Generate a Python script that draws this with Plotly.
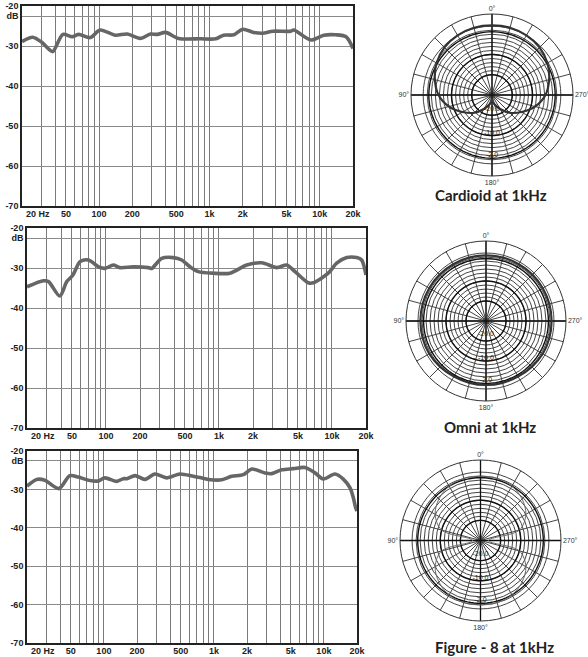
import math
import plotly.graph_objects as go

W, H = 588, 657

# ---------------- frequency-response data ----------------
card_freq = [20, 25, 30, 35, 38, 47, 57, 65, 83, 102, 140, 180, 236, 292, 337, 400, 524,
             830, 1140, 1340, 1660, 2000, 2520, 3040, 3750, 5460, 5820, 8300, 10900, 14000, 17300, 20000]
card_db = [-28.9, -27.8, -29.0, -30.8, -31.4, -27.1, -27.7, -27.1, -27.9, -26.0, -27.3, -27.0, -28.1,
           -27.0, -27.1, -26.6, -28.1, -28.2, -28.2, -27.3, -27.2, -25.8, -26.6, -26.8, -26.3, -26.3,
           -26.0, -28.5, -27.3, -27.2, -27.7, -30.6]

omni_freq = [20, 28, 31, 39, 45, 51, 59, 70, 86, 98, 116, 133, 175, 237, 254, 311, 394, 468,
             554, 656, 891, 1250, 1760, 2390, 3250, 3980, 4710, 6170, 6840, 9270, 11000, 13500,
             16550, 18300, 20000]
omni_db = [-34.7, -33.2, -33.4, -37.0, -33.4, -31.75, -28.4, -28.0, -29.7, -30.1, -29.25, -29.9,
           -29.7, -29.9, -30.1, -27.6, -27.4, -28.0, -29.7, -30.9, -31.3, -31.3, -29.25, -28.7,
           -29.9, -29.25, -30.9, -33.7, -33.7, -31.3, -28.8, -27.4, -27.4, -28.0, -31.75]

fig8_freq = [20, 24.5, 29, 39, 49, 58.5, 75, 89, 102, 131, 150, 162, 192, 236, 291, 372, 492,
             650, 748, 889, 1180, 1450, 1850, 2210, 2910, 3350, 4140, 5270, 6730, 8300, 9880,
             12600, 15000, 17300, 18500, 19500, 20000]
fig8_db = [-29.15, -27.4, -27.6, -29.8, -26.4, -26.8, -27.7, -27.8, -27.0, -27.9, -27.2, -27.2,
           -26.4, -27.4, -26.0, -27.0, -26.0, -26.6, -26.9, -27.4, -27.5, -26.6, -26.15, -24.7,
           -25.7, -25.9, -24.9, -24.6, -24.3, -25.7, -27.3, -26.0, -27.3, -29.6, -32.1, -34.9, -35.6]

# axis ticks
grid_freqs = [20, 30, 40, 50, 60, 70, 80, 90, 100, 200, 300, 400, 500, 600, 700, 800, 900,
              1000, 2000, 3000, 4000, 5000, 6000, 7000, 8000, 9000, 10000, 20000]
freq_labels = {50: "50", 100: "100", 200: "200", 500: "500", 1000: "1k", 2000: "2k",
               5000: "5k", 10000: "10k", 20000: "20k"}
first_freq_label = "20 Hz"
db_ticks = [-20, -22.5, -30, -40, -50, -60, -70]
db_labels = ["-20", "dB", "-30", "-40", "-50", "-60", "-70"]

# ---------------- polar data ----------------
pol_theta = [0, 15, 30, 45, 60, 75, 90, 105, 120, 135, 150, 165, 180,
             195, 210, 225, 240, 255, 270, 285, 300, 315, 330, 345, 360]
card_r = [0.86, 0.86, 0.85, 0.83, 0.79, 0.73, 0.66, 0.55, 0.42, 0.31, 0.2, 0.12, 0.08,
          0.12, 0.2, 0.31, 0.42, 0.55, 0.66, 0.73, 0.79, 0.83, 0.85, 0.86, 0.86]
omni_r = [0.82, 0.82, 0.82, 0.82, 0.82, 0.82, 0.82, 0.82, 0.82, 0.81, 0.8, 0.8, 0.8,
          0.8, 0.8, 0.81, 0.82, 0.82, 0.82, 0.82, 0.82, 0.82, 0.82, 0.82, 0.82]
fig8_r = [0.8, 0.8, 0.78, 0.73, 0.65, 0.5, 0.1, 0.5, 0.65, 0.73, 0.78, 0.8, 0.8,
          0.8, 0.78, 0.73, 0.65, 0.5, 0.1, 0.5, 0.65, 0.73, 0.78, 0.8, 0.8]

ring_r = [0.25, 0.3, 0.35, 0.4, 0.45, 0.5, 0.55, 0.6, 0.65, 0.7, 0.75, 0.8, 0.85]
thick_ring_r = [0.25, 0.5, 0.78]
ring_label_r = [0.17, 0.47, 0.74]
ring_labels = ["-20.0", "-10.0", "-2.0"]
spoke_theta = list(range(0, 360, 15))
circle_theta = list(range(0, 361, 3))

titles = ["Cardioid at 1kHz", "Omni at 1kHz", "Figure - 8 at 1kHz"]

# ---------------- layout geometry (pixels) ----------------
charts = [  # left, right, top, bottom
    (22, 353, 6, 206),
    (27, 366, 228, 428),
    (27, 357, 451, 643),
]
polars = [  # left, right, top, bottom
    (411, 573, 14, 176),
    (406, 566, 241, 401),
    (400, 561, 460, 621),
]
title_pos = [(491, 195), (490, 427), (494, 647)]

fig = go.Figure()
series = [(card_freq, card_db), (omni_freq, omni_db), (fig8_freq, fig8_db)]
patterns = [card_r, omni_r, fig8_r]
tick_font = dict(family="Liberation Sans", size=9, color="#222")

for i, (fx, fy) in enumerate(series):
    xa = "x" if i == 0 else f"x{i+1}"
    ya = "y" if i == 0 else f"y{i+1}"
    fig.add_trace(go.Scatter(x=fx, y=fy, mode="lines", xaxis=xa, yaxis=ya,
                             line=dict(color="#666666", width=3.6, shape="spline", smoothing=0.8),
                             hoverinfo="skip", showlegend=False))
    l, r, t, b = charts[i]
    fig.update_layout(**{
        ("xaxis" if i == 0 else f"xaxis{i+1}"): dict(
            type="log", range=[math.log10(grid_freqs[0]), math.log10(grid_freqs[-1])],
            anchor=ya, domain=[l / W, r / W],
            automargin=False, ticklabelstandoff=-2,
            tickvals=grid_freqs,
            ticktext=["<b>" + freq_labels[v] + "</b>" if v in freq_labels else "" for v in grid_freqs],
            tickfont=tick_font,
            showgrid=True, gridcolor="#7a7a7a", gridwidth=1,
            showline=True, linecolor="#222", linewidth=1.6, mirror=True,
            ticks="", ticklen=0, zeroline=False),
        ("yaxis" if i == 0 else f"yaxis{i+1}"): dict(
            range=[-70, -20], anchor=xa, domain=[1 - b / H, 1 - t / H],
            automargin=False,
            tickvals=db_ticks, ticktext=["<b>" + s + "</b>" for s in db_labels],
            tickfont=tick_font,
            showgrid=True, gridcolor="#8a8a8a", gridwidth=1,
            showline=True, linecolor="#222", linewidth=1.6, mirror=True,
            ticks="", ticklen=0, zeroline=False),
    })
    # "20 Hz" label sits to the right of the 20 Hz axis line
    fig.add_annotation(x=math.log10(grid_freqs[0]), xref=xa, y=1 - b / H, yref="paper",
                       text="<b>" + first_freq_label + "</b>", showarrow=False,
                       xanchor="left", yanchor="top", xshift=2, yshift=-1, font=tick_font)

for i, pr in enumerate(patterns):
    sp = "polar" if i == 0 else f"polar{i+1}"
    for rr in thick_ring_r:
        fig.add_trace(go.Scatterpolar(r=[rr] * len(circle_theta), theta=circle_theta, mode="lines",
                                      line=dict(color="#111", width=1.4), subplot=sp,
                                      hoverinfo="skip", showlegend=False))
    fig.add_trace(go.Scatterpolar(r=[1, 0, 1], theta=[0, 0, 180], mode="lines",
                                  line=dict(color="#111", width=1.3), subplot=sp,
                                  hoverinfo="skip", showlegend=False))
    fig.add_trace(go.Scatterpolar(r=[1, 0, 1], theta=[90, 0, 270], mode="lines",
                                  line=dict(color="#111", width=1.3), subplot=sp,
                                  hoverinfo="skip", showlegend=False))
    fig.add_trace(go.Scatterpolar(r=pr, theta=pol_theta, mode="lines",
                                  line=dict(color="#333" if i != 2 else "#666",
                                            width=2.2 if i != 2 else 1.0, shape="spline"),
                                  subplot=sp, hoverinfo="skip", showlegend=False))
    fig.add_trace(go.Scatterpolar(r=ring_label_r, theta=[180] * 3, mode="text", text=ring_labels,
                                  textfont=dict(family="Liberation Sans", size=7, color="#222"),
                                  subplot=sp, hoverinfo="skip", showlegend=False))
    l, r, t, b = polars[i]
    fig.update_layout(**{sp: dict(
        domain=dict(x=[l / W, r / W], y=[1 - b / H, 1 - t / H]),
        bgcolor="white",
        radialaxis=dict(range=[0, 1], tickvals=ring_r, showticklabels=False, ticks="",
                        showline=False, gridcolor="#444", gridwidth=0.6),
        angularaxis=dict(rotation=90, direction="counterclockwise", tickvals=spoke_theta,
                         ticktext=["0°" if v == 0 else "90°" if v == 90 else "180°" if v == 180
                                   else "270°" if v == 270 else "" for v in spoke_theta],
                         tickfont=dict(family="Liberation Sans", size=7, color="#333"),
                         ticks="", showline=True, linecolor="#333", linewidth=1,
                         gridcolor="#444", gridwidth=0.6),
    )})
    tx, ty = title_pos[i]
    fig.add_annotation(x=tx / W, y=1 - ty / H, xref="paper", yref="paper",
                       text="<b>" + titles[i] + "</b>",
                       showarrow=False, font=dict(family="Lato", size=15, color="#222"),
                       xanchor="center", yanchor="middle")

fig.update_layout(width=W, height=H, margin=dict(l=0, r=0, t=0, b=0, autoexpand=False),
                  paper_bgcolor="white", plot_bgcolor="white", showlegend=False)

fig.write_html("out.html", config={"displayModeBar": False},
               post_script="document.body.style.margin='0px';document.body.style.overflow='hidden';")
